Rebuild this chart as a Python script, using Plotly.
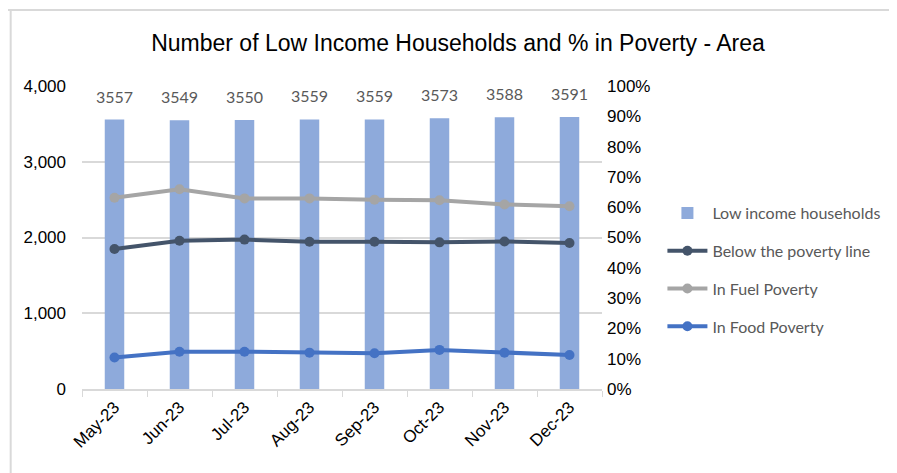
import plotly.graph_objects as go

months = ["May-23", "Jun-23", "Jul-23", "Aug-23", "Sep-23", "Oct-23", "Nov-23", "Dec-23"]
low_income = [3557, 3549, 3550, 3559, 3559, 3573, 3588, 3591]
below_poverty = [0.462, 0.489, 0.493, 0.486, 0.486, 0.484, 0.487, 0.482]
fuel_poverty = [0.631, 0.659, 0.629, 0.629, 0.625, 0.623, 0.609, 0.603]
food_poverty = [0.104, 0.123, 0.123, 0.120, 0.118, 0.129, 0.120, 0.112]

# page body adds an 8px offset, so the figure is drawn 8px smaller and shifted
OFF = 8
W, H = 897 - OFF, 473 - OFF
L, R, T, B = 82 - OFF, 290, 86 - OFF, 84
pw, ph = W - L - R, H - T - B

fig = go.Figure()
fig.add_trace(go.Bar(x=months, y=low_income, name="Low income households",
                     marker=dict(color="#8EAADB", line=dict(width=0)), width=0.3,
                     legendgroup="a"))
lines = [("Below the poverty line", below_poverty, "#44546A"),
         ("In Fuel Poverty", fuel_poverty, "#A5A5A5"),
         ("In Food Poverty", food_poverty, "#4472C4")]
for i, (nm, vals, col) in enumerate(lines):
    fig.add_trace(go.Scatter(x=months, y=vals, name=nm, yaxis="y2", mode="lines+markers",
                             line=dict(color=col, width=4), marker=dict(color=col, size=10),
                             legendgroup=str(i)))

for m, v in zip(months, low_income):
    fig.add_annotation(x=m, y=v, text=str(v), showarrow=False, yanchor="bottom", yshift=12,
                       font=dict(family="Lato, Carlito, sans-serif", size=16, color="#595959"))

# outer frame (top and left edges)
top_y = (H - B - (10 - OFF)) / ph
left_x = (10 - OFF - L) / pw
fig.add_shape(type="line", xref="paper", yref="paper", x0=(6 - OFF - L) / pw, x1=(W - L) / pw,
              y0=top_y, y1=top_y, line=dict(color="#D9D9D9", width=2))
fig.add_shape(type="line", xref="paper", yref="paper", x0=left_x, x1=left_x,
              y0=top_y, y1=-B / ph, line=dict(color="#D9D9D9", width=2))

tickfont = dict(family="Liberation Sans Narrow, Arial Narrow, sans-serif", size=17, color="#000000")

fig.update_layout(
    width=W, height=H, margin=dict(l=L, r=R, t=T, b=B),
    paper_bgcolor="white", plot_bgcolor="white",
    title=dict(text="Number of Low Income Households and % in Poverty - Area",
               x=(458 - OFF) / W, xanchor="center", y=1 - (43 - OFF) / H, yanchor="middle",
               font=dict(family="Liberation Sans Narrow, Arial Narrow, sans-serif", size=23, color="#000000")),
    xaxis=dict(type="category", showline=True, linecolor="#D9D9D9", linewidth=1.5,
               ticks="outside", tickson="boundaries", ticklen=6, tickcolor="#D9D9D9",
               tickangle=-45, tickfont=tickfont, showgrid=False),
    yaxis=dict(range=[0, 4000], dtick=1000, tickformat=",", showgrid=True, gridcolor="#D9D9D9",
               gridwidth=1.5, zeroline=False, tickfont=tickfont, ticklabelstandoff=15),
    yaxis2=dict(range=[0, 1], dtick=0.1, tickformat=".0%", overlaying="y", side="right",
                showgrid=False, zeroline=False, tickfont=tickfont, ticklabelstandoff=4),
    legend=dict(x=(668 - OFF - L) / pw, xanchor="left", y=(H - B - (196 - OFF)) / ph, yanchor="top",
                font=dict(family="Lato, Carlito, sans-serif", size=16, color="#595959"),
                itemwidth=40, tracegroupgap=14, bgcolor="rgba(0,0,0,0)"),
    showlegend=True,
)

fig.write_html("out.html")
